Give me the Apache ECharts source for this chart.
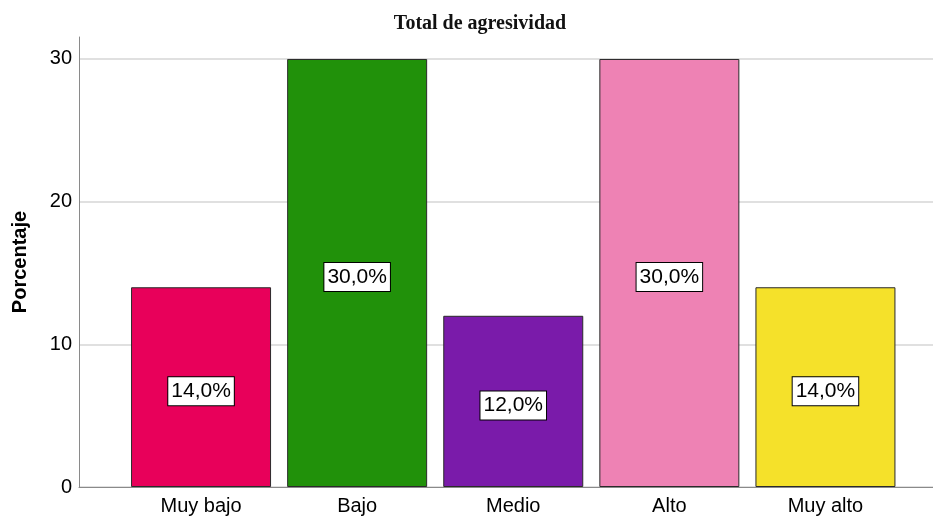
<!DOCTYPE html>
<html>
<head>
<meta charset="utf-8">
<script src="https://cdn.jsdelivr.net/npm/echarts@6/dist/echarts.min.js"></script>
<style>
  html, body { margin: 0; padding: 0; background: #fff; }
  #chart { width: 933px; height: 518px; }
</style>
</head>
<body>
<div id="chart"></div>
<script>
// Nivel de agresividad: porcentaje por categoría
const categories = ['Muy bajo', 'Bajo', 'Medio', 'Alto', 'Muy alto'];
const percentages = [14.0, 30.0, 12.0, 30.0, 14.0];
const barColors = ['#E8005A', '#21910A', '#7A1BAA', '#EE82B4', '#F5E12A'];
const yTicks = [0, 10, 20, 30];

const yMax = 31.54;
const font = '"Liberation Sans", Arial, sans-serif';

const chart = echarts.init(document.getElementById('chart'));

chart.setOption({
  backgroundColor: '#ffffff',
  animation: false,
  title: {
    text: 'Total de agresividad',
    left: 480,
    textAlign: 'center',
    top: 14,
    padding: 0,
    textStyle: {
      fontFamily: '"Liberation Serif", "Times New Roman", serif',
      fontWeight: 'bold',
      fontSize: 20,
      color: '#111'
    }
  },
  grid: [
    { left: 79, right: 0, top: 37, bottom: 31 },
    { left: 123, right: 29.5, top: 37, bottom: 31 }
  ],
  xAxis: [
    {
      gridIndex: 0,
      type: 'value',
      min: 0,
      max: 1,
      axisLine: { show: true, lineStyle: { color: '#8a8a8a', width: 1 } },
      axisTick: { show: false },
      axisLabel: { show: false },
      splitLine: { show: false }
    },
    {
      gridIndex: 1,
      type: 'category',
      data: categories,
      axisLine: { show: false },
      axisTick: { show: false },
      axisLabel: {
        color: '#000',
        fontFamily: font,
        fontSize: 20,
        margin: 9
      },
      splitLine: { show: false }
    }
  ],
  yAxis: [
    {
      gridIndex: 0,
      type: 'value',
      min: 0,
      max: yMax,
      interval: 10,
      name: 'Porcentaje',
      nameLocation: 'middle',
      nameGap: 49,
      nameTextStyle: {
        fontFamily: font,
        fontWeight: 'bold',
        fontSize: 20,
        color: '#000'
      },
      axisLine: { show: true, lineStyle: { color: '#8a8a8a', width: 1 } },
      axisTick: { show: false },
      axisLabel: {
        showMaxLabel: false,
        color: '#000',
        fontFamily: font,
        fontSize: 20,
        margin: 7,
        padding: [4, 0, 0, 0],
        formatter: v => (yTicks.indexOf(v) >= 0 ? String(v) : '')
      },
      splitLine: {
        show: true,
        showMaxLine: false,
        lineStyle: { color: '#d6d6d6', width: 1.5 }
      }
    },
    {
      gridIndex: 1,
      type: 'value',
      min: 0,
      max: yMax,
      show: false,
      splitLine: { show: false }
    }
  ],
  series: [
    {
      type: 'bar',
      xAxisIndex: 1,
      yAxisIndex: 1,
      barWidth: 140,
      data: percentages.map((v, i) => ({
        value: v,
        itemStyle: { color: barColors[i] }
      })),
      itemStyle: { borderColor: '#2a2a2a', borderWidth: 1 },
      label: {
        show: true,
        position: 'inside',
        offset: [0, 4],
        formatter: p => p.value.toFixed(1).replace('.', ',') + '%',
        color: '#000',
        fontFamily: font,
        fontSize: 21,
        backgroundColor: '#ffffff',
        borderColor: '#000',
        borderWidth: 1,
        padding: [4, 3, 3, 3]
      }
    }
  ]
});
</script>
</body>
</html>
